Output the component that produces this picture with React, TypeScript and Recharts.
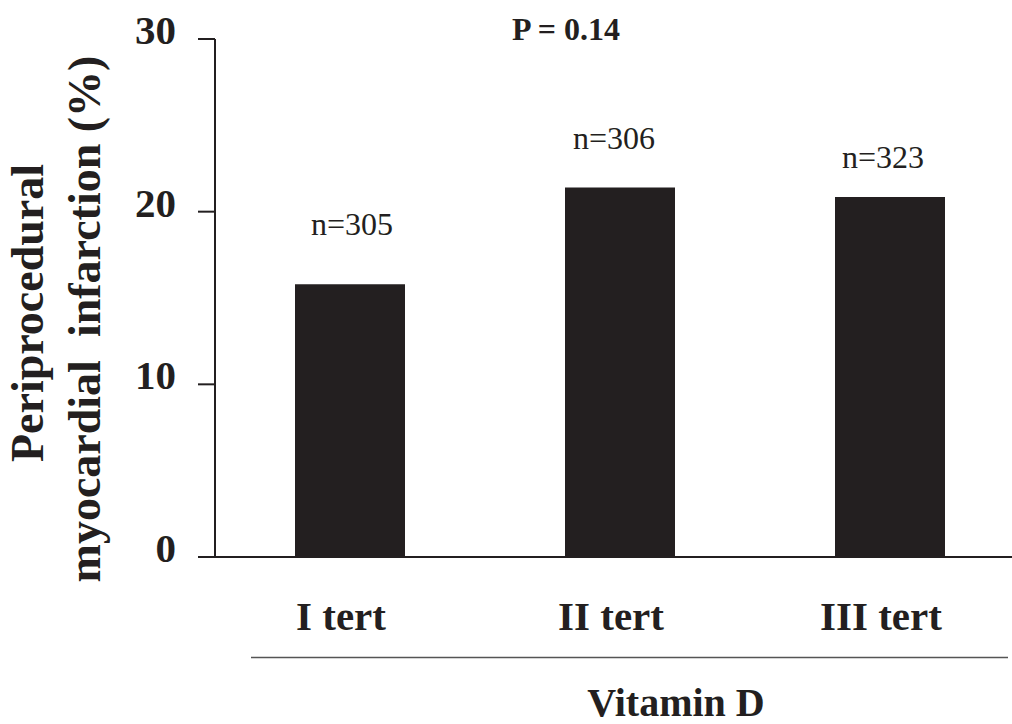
import React from "react";
import { BarChart, Bar, XAxis, YAxis, LabelList, Customized } from "recharts";

// Periprocedural myocardial infarction by vitamin D tertile
const tertiles = ["I tert", "II tert", "III tert"];
const infarctionPct = [15.8, 21.4, 20.85];
const sampleSizes = ["n=305", "n=306", "n=323"];
const yTicks = [0, 10, 20, 30];
const pValueText = "P = 0.14";

const data = tertiles.map((t, i) => ({ tert: t, pct: infarctionPct[i], n: sampleSizes[i] }));

const SERIF = '"Liberation Serif", "Times New Roman", serif';
const INK = "#231f20";
// placement of each n= label relative to its bar (horizontal nudge, gap above the bar top)
const labelNudge = [2, -6, -7];
const labelGaps = [49, 38, 29];

const YTick = (props: any) => {
  const { y, payload } = props;
  return (
    <text x={176} y={y + 5} textAnchor="end" fontFamily={SERIF} fontWeight="bold" fontSize={41} fill={INK}>
      {payload.value}
    </text>
  );
};

const XTick = (props: any) => {
  const { x, y, payload } = props;
  return (
    <text x={x - 9} y={y + 73} textAnchor="middle" fontFamily={SERIF} fontWeight="bold" fontSize={41} fill={INK}>
      {payload.value}
    </text>
  );
};

const NLabel = (props: any) => {
  const { x, y, width, value, index } = props;
  return (
    <text
      x={x + width / 2 + labelNudge[index]}
      y={y - labelGaps[index]}
      textAnchor="middle"
      fontFamily={SERIF}
      fontSize={32}
      fill={INK}
    >
      {value}
    </text>
  );
};

const YTitle = () => (
  <g fontFamily={SERIF} fontWeight="bold" fontSize={46} fill={INK}>
    <text x={43} y={313} transform="rotate(-90 43 313)" textAnchor="middle">
      Periprocedural
    </text>
    <text x={100} y={319} transform="rotate(-90 100 319)" textAnchor="middle">
      {"myocardial\u00a0 infarction (%)"}
    </text>
  </g>
);

const Extras = () => (
  <g>
    <text x={566} y={40} textAnchor="middle" fontFamily={SERIF} fontWeight="bold" fontSize={32} fill={INK}>
      {pValueText}
    </text>
    <line x1={251} x2={1008} y1={657.5} y2={657.5} stroke="#555" strokeWidth={1.5} />
    <text x={676} y={716} textAnchor="middle" fontFamily={SERIF} fontWeight="bold" fontSize={40} fill={INK}>
      Vitamin D
    </text>
  </g>
);

export default function App() {
  return (
    <div style={{ position: "absolute", left: 0, top: 0, width: 1012, height: 724, overflow: "hidden", background: "#fff" }}>
      <BarChart width={1030} height={724} data={data} margin={{ top: 39, right: 5, bottom: 0, left: 0 }} barSize={110}>
        <XAxis
          dataKey="tert"
          height={167}
          tick={<XTick />}
          tickLine={false}
          tickSize={0}
          tickMargin={0}
          axisLine={{ stroke: INK, strokeWidth: 2 }}
        />
        <YAxis
          width={215}
          domain={[0, 30]}
          ticks={yTicks}
          interval={0}
          tick={<YTick />}
          tickSize={17}
          tickLine={{ stroke: INK, strokeWidth: 2 }}
          axisLine={{ stroke: INK, strokeWidth: 2 }}
        />
        <Bar dataKey="pct" fill={INK} isAnimationActive={false}>
          <LabelList dataKey="n" content={<NLabel />} />
        </Bar>
        <Customized component={<YTitle />} />
        <Customized component={<Extras />} />
      </BarChart>
    </div>
  );
}
